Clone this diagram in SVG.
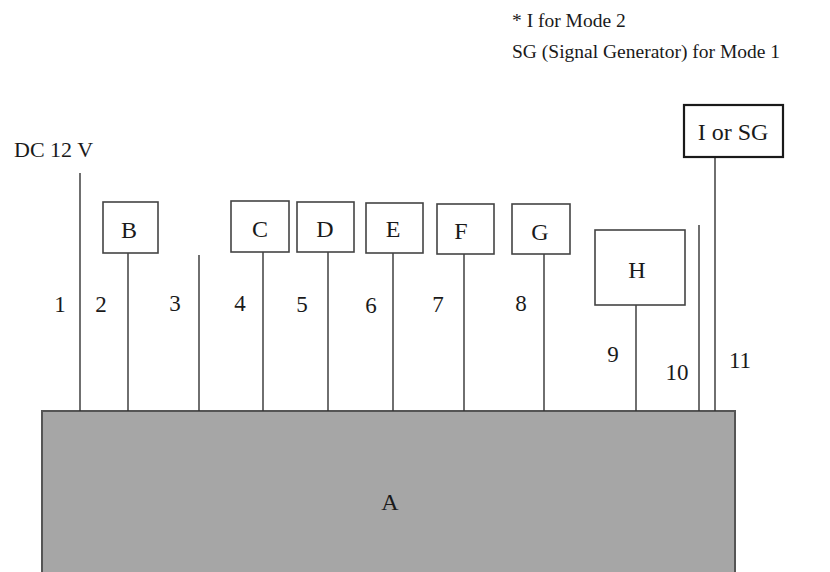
<svg xmlns="http://www.w3.org/2000/svg" width="830" height="572" viewBox="0 0 830 572">
  <style>
    text { font-family: "Liberation Serif", "Times New Roman", serif; fill: #1a1a1a; }
    .lbl { font-size: 24px; text-anchor: middle; }
    .num { font-size: 23px; text-anchor: middle; }
    .note { font-size: 19.5px; }
    .box { fill: #ffffff; stroke: #444444; stroke-width: 1.6; }
    .wire { stroke: #333333; stroke-width: 1.4; fill: none; }
  </style>

  <rect width="830" height="572" fill="#ffffff"/>

  <!-- legend -->
  <g id="legend">
    <text class="note" x="512" y="27">* I for Mode 2</text>
    <text class="note" x="512" y="58">SG (Signal Generator) for Mode 1</text>
  </g>

  <!-- supply label -->
  <g id="supply">
    <text x="14" y="157" style="font-size:22px">DC 12 V</text>
  </g>

  <!-- main unit -->
  <g id="A">
    <rect x="42" y="411" width="693" height="170" fill="#a6a6a6" stroke="#555555" stroke-width="2"/>
    <text class="lbl" x="390" y="510">A</text>
  </g>

  <!-- connectors -->
  <g id="connectors">
    <line class="wire" x1="80" y1="173" x2="80" y2="411"/>
    <line class="wire" x1="128" y1="253" x2="128" y2="411"/>
    <line class="wire" x1="199" y1="255" x2="199" y2="411"/>
    <line class="wire" x1="263" y1="252" x2="263" y2="411"/>
    <line class="wire" x1="328" y1="252" x2="328" y2="411"/>
    <line class="wire" x1="393" y1="253" x2="393" y2="411"/>
    <line class="wire" x1="464" y1="254" x2="464" y2="411"/>
    <line class="wire" x1="544" y1="254" x2="544" y2="411"/>
    <line class="wire" x1="636" y1="305" x2="636" y2="411"/>
    <line class="wire" x1="699" y1="225" x2="699" y2="411"/>
    <line class="wire" x1="715" y1="157" x2="715" y2="411"/>
  </g>

  <!-- connector numbers -->
  <g id="numbers">
    <text class="num" x="60" y="312">1</text>
    <text class="num" x="101" y="312">2</text>
    <text class="num" x="175" y="311">3</text>
    <text class="num" x="240" y="311">4</text>
    <text class="num" x="302" y="312">5</text>
    <text class="num" x="371" y="313">6</text>
    <text class="num" x="438" y="312">7</text>
    <text class="num" x="521" y="311">8</text>
    <text class="num" x="613" y="362">9</text>
    <text class="num" x="677" y="380">10</text>
    <text class="num" x="740" y="368">11</text>
  </g>

  <g id="B">
    <rect class="box" x="103" y="202" width="55" height="51"/>
    <text class="lbl" x="129" y="238">B</text>
  </g>
  <g id="C">
    <rect class="box" x="231" y="201" width="58" height="51"/>
    <text class="lbl" x="260" y="237">C</text>
  </g>
  <g id="D">
    <rect class="box" x="297" y="202" width="57" height="50"/>
    <text class="lbl" x="325" y="237">D</text>
  </g>
  <g id="E">
    <rect class="box" x="366" y="203" width="57" height="50"/>
    <text class="lbl" x="393" y="237">E</text>
  </g>
  <g id="F">
    <rect class="box" x="437" y="204" width="57" height="50"/>
    <text class="lbl" x="461" y="239">F</text>
  </g>
  <g id="G">
    <rect class="box" x="512" y="204" width="58" height="50"/>
    <text class="lbl" x="540" y="240">G</text>
  </g>
  <g id="H">
    <rect class="box" x="595" y="230" width="90" height="75"/>
    <text class="lbl" x="637" y="278">H</text>
  </g>
  <g id="I_or_SG">
    <rect x="684" y="105" width="99" height="52" fill="#ffffff" stroke="#1a1a1a" stroke-width="2.2"/>
    <text class="lbl" x="733" y="140">I or SG</text>
  </g>
</svg>
